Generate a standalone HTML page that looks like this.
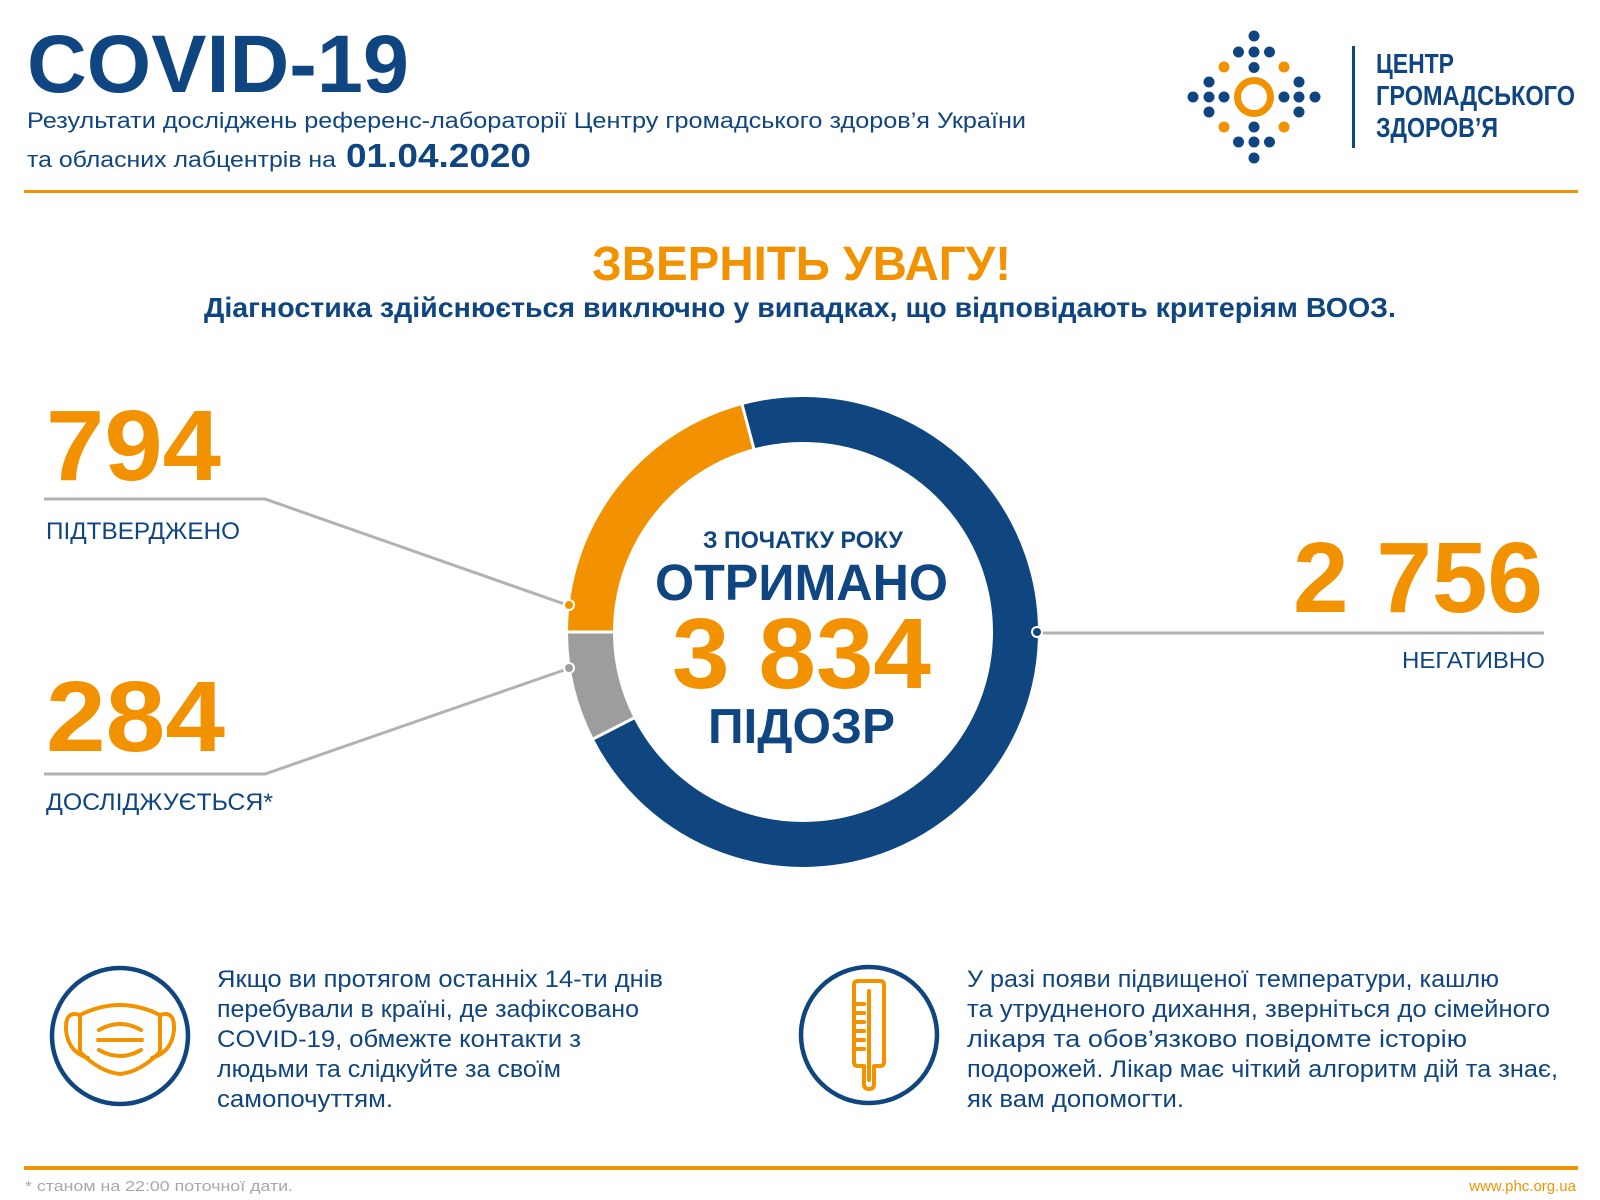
<!DOCTYPE html>
<html><head><meta charset="utf-8"><style>
html,body{margin:0;padding:0;background:#fff}
svg{display:block}
text{font-family:"Liberation Sans",sans-serif}
</style></head><body>
<svg width="1600" height="1200" viewBox="0 0 1600 1200" xmlns="http://www.w3.org/2000/svg">
<rect width="1600" height="1200" fill="#fff"/>
<!-- header -->
<text x="27" y="92" font-size="82" font-weight="bold" fill="#0f4580" textLength="382" lengthAdjust="spacingAndGlyphs">COVID-19</text>
<text x="27" y="128" font-size="22" fill="#0f4580" textLength="999" lengthAdjust="spacingAndGlyphs">Результати досліджень референс-лабораторії Центру громадського здоров’я України</text>
<text x="27" y="167" font-size="22" fill="#0f4580" textLength="309" lengthAdjust="spacingAndGlyphs">та обласних лабцентрів на</text>
<text x="346" y="167" font-size="33" font-weight="bold" fill="#0f4580" textLength="185" lengthAdjust="spacingAndGlyphs">01.04.2020</text>
<rect x="24" y="190" width="1554" height="3" fill="#f39200"/>
<!-- logo -->
<g fill="#0f4580">
<circle cx="1254" cy="36" r="5.5"/>
<circle cx="1238.5" cy="52" r="5.5"/><circle cx="1254" cy="52" r="5.5"/><circle cx="1269.5" cy="52" r="5.5"/>
<circle cx="1254" cy="67.5" r="5.5"/>
<circle cx="1209" cy="82" r="5.5"/><circle cx="1299" cy="82" r="5.5"/>
<circle cx="1193" cy="97" r="5.5"/><circle cx="1209" cy="97" r="5.5"/><circle cx="1224" cy="97" r="5.5"/>
<circle cx="1284" cy="97" r="5.5"/><circle cx="1299" cy="97" r="5.5"/><circle cx="1315" cy="97" r="5.5"/>
<circle cx="1209" cy="112" r="5.5"/><circle cx="1299" cy="112" r="5.5"/>
<circle cx="1254" cy="127" r="5.5"/>
<circle cx="1238.5" cy="142" r="5.5"/><circle cx="1254" cy="142" r="5.5"/><circle cx="1269.5" cy="142" r="5.5"/>
<circle cx="1254" cy="158" r="5.5"/>
</g>
<g fill="#f39200">
<circle cx="1224" cy="67" r="5.5"/><circle cx="1284" cy="67" r="5.5"/>
<circle cx="1224" cy="127" r="5.5"/><circle cx="1284" cy="127" r="5.5"/>
</g>
<circle cx="1254" cy="97" r="16.5" fill="none" stroke="#f39200" stroke-width="7"/>
<rect x="1352" y="46" width="3" height="102" fill="#0f4580"/>
<g font-size="28" font-weight="bold" fill="#0f4580">
<text x="1376" y="73" textLength="78" lengthAdjust="spacingAndGlyphs">ЦЕНТР</text>
<text x="1376" y="105" textLength="199" lengthAdjust="spacingAndGlyphs">ГРОМАДСЬКОГО</text>
<text x="1376" y="137" textLength="122" lengthAdjust="spacingAndGlyphs">ЗДОРОВ’Я</text>
</g>
<!-- attention -->
<text x="592" y="280" font-size="48" font-weight="bold" fill="#f39200" textLength="419" lengthAdjust="spacingAndGlyphs">ЗВЕРНІТЬ УВАГУ!</text>
<text x="204" y="317" font-size="28" font-weight="bold" fill="#0f4580" textLength="1192" lengthAdjust="spacingAndGlyphs">Діагностика здійснюється виключно у випадках, що відповідають критеріям ВООЗ.</text>
<!-- donut -->
<g fill="none" stroke-width="45">
<path d="M 590.5 632 A 212.5 212.5 0 0 1 748 426.7" stroke="#f39200"/>
<path d="M 748 426.7 A 212.5 212.5 0 1 1 613.7 728.5" stroke="#104680"/>
<path d="M 613.7 728.5 A 212.5 212.5 0 0 1 590.5 632" stroke="#9d9d9d"/>
</g>
<g stroke="#fff" stroke-width="3">
<line x1="565" y1="632" x2="616" y2="632"/>
<line x1="741.8" y1="403.5" x2="754.4" y2="450.8"/>
<line x1="592" y1="739.5" x2="636" y2="717"/>
</g>
<!-- leader lines -->
<g stroke="#b2b2b2" stroke-width="3" fill="none">
<polyline points="44,499 265,499 570,606"/>
<polyline points="44,774 265,774 570,668"/>
<line x1="1037" y1="633" x2="1544" y2="633"/>
</g>
<circle cx="569" cy="605" r="5" fill="#f39200" stroke="#fff" stroke-width="2"/>
<circle cx="569" cy="668" r="5" fill="#9d9d9d" stroke="#fff" stroke-width="2"/>
<circle cx="1037" cy="632" r="5" fill="#104680" stroke="#fff" stroke-width="2"/>
<!-- center text -->
<text x="703" y="548" font-size="24" font-weight="bold" fill="#0f4580" textLength="200" lengthAdjust="spacingAndGlyphs">З ПОЧАТКУ РОКУ</text>
<text x="655" y="600" font-size="51" font-weight="bold" fill="#0f4580" textLength="293" lengthAdjust="spacingAndGlyphs">ОТРИМАНО</text>
<text x="672" y="688" font-size="100" font-weight="bold" fill="#f39200" textLength="259" lengthAdjust="spacingAndGlyphs">3 834</text>
<text x="708" y="743" font-size="49" font-weight="bold" fill="#0f4580" textLength="187" lengthAdjust="spacingAndGlyphs">ПІДОЗР</text>
<!-- numbers -->
<text x="46" y="480" font-size="100" font-weight="bold" fill="#f39200" textLength="175" lengthAdjust="spacingAndGlyphs">794</text>
<text x="46" y="539" font-size="24" fill="#0f4580" textLength="194" lengthAdjust="spacingAndGlyphs">ПІДТВЕРДЖЕНО</text>
<text x="46" y="751" font-size="100" font-weight="bold" fill="#f39200" textLength="179" lengthAdjust="spacingAndGlyphs">284</text>
<text x="46" y="810" font-size="24" fill="#0f4580" textLength="227" lengthAdjust="spacingAndGlyphs">ДОСЛІДЖУЄТЬСЯ*</text>
<text x="1293" y="612" font-size="100" font-weight="bold" fill="#f39200" textLength="250" lengthAdjust="spacingAndGlyphs">2 756</text>
<text x="1402" y="668" font-size="23" fill="#0f4580" textLength="143" lengthAdjust="spacingAndGlyphs">НЕГАТИВНО</text>
<!-- bottom icons -->
<circle cx="120" cy="1036" r="68" fill="none" stroke="#104680" stroke-width="4.5"/>
<g fill="none" stroke="#f39200" stroke-width="4" stroke-linejoin="round" stroke-linecap="round">
<path d="M80 1015 Q120 995 160 1015 L160 1052 Q140 1072 120 1074 Q100 1072 80 1052 Z"/>
<path d="M80 1015 Q65 1010 66 1030 Q68 1052 88 1058"/>
<path d="M160 1015 Q175 1010 174 1030 Q172 1052 152 1058"/>
<path d="M99 1030 Q120 1018 141 1030"/>
<line x1="98" y1="1040" x2="142" y2="1040"/>
<path d="M99 1050 Q120 1062 141 1050"/>
</g>
<circle cx="869" cy="1035" r="68" fill="none" stroke="#104680" stroke-width="4.5"/>
<g fill="none" stroke="#f39200" stroke-width="4" stroke-linejoin="round" stroke-linecap="round">
<path d="M858 981 H880 Q884 981 884 985 V1062 Q884 1066 880 1066 H874 V1084 Q874 1089 869 1089 Q864 1089 864 1084 V1066 H858 Q854 1066 854 1062 V985 Q854 981 858 981 Z"/>
<line x1="869" y1="991" x2="869" y2="1080"/>
<line x1="856" y1="1004" x2="864" y2="1004"/><line x1="856" y1="1013" x2="864" y2="1013"/>
<line x1="856" y1="1022" x2="864" y2="1022"/><line x1="856" y1="1031" x2="864" y2="1031"/>
<line x1="856" y1="1040" x2="864" y2="1040"/><line x1="856" y1="1049" x2="864" y2="1049"/>
</g>
<g font-size="24" fill="#0f4580">
<text x="217" y="987" textLength="446" lengthAdjust="spacingAndGlyphs">Якщо ви протягом останніх 14-ти днів</text>
<text x="217" y="1017" textLength="422" lengthAdjust="spacingAndGlyphs">перебували в країні, де зафіксовано</text>
<text x="217" y="1047" textLength="364" lengthAdjust="spacingAndGlyphs">COVID-19, обмежте контакти з</text>
<text x="217" y="1077" textLength="344" lengthAdjust="spacingAndGlyphs">людьми та слідкуйте за своїм</text>
<text x="217" y="1107" textLength="176" lengthAdjust="spacingAndGlyphs">самопочуттям.</text>
<text x="967" y="987" textLength="532" lengthAdjust="spacingAndGlyphs">У разі появи підвищеної температури, кашлю</text>
<text x="967" y="1017" textLength="583" lengthAdjust="spacingAndGlyphs">та утрудненого дихання, зверніться до сімейного</text>
<text x="967" y="1047" textLength="500" lengthAdjust="spacingAndGlyphs">лікаря та обов’язково повідомте історію</text>
<text x="967" y="1077" textLength="591" lengthAdjust="spacingAndGlyphs">подорожей. Лікар має чіткий алгоритм дій та знає,</text>
<text x="967" y="1107" textLength="217" lengthAdjust="spacingAndGlyphs">як вам допомогти.</text>
</g>
<!-- footer -->
<rect x="24" y="1166" width="1554" height="4" fill="#f39200"/>
<text x="25" y="1191" font-size="15" fill="#a8a8a8" textLength="268" lengthAdjust="spacingAndGlyphs">* станом на 22:00 поточної дати.</text>
<text x="1576" y="1191" font-size="15" fill="#f39200" text-anchor="end">www.phc.org.ua</text>
</svg>
</body></html>
